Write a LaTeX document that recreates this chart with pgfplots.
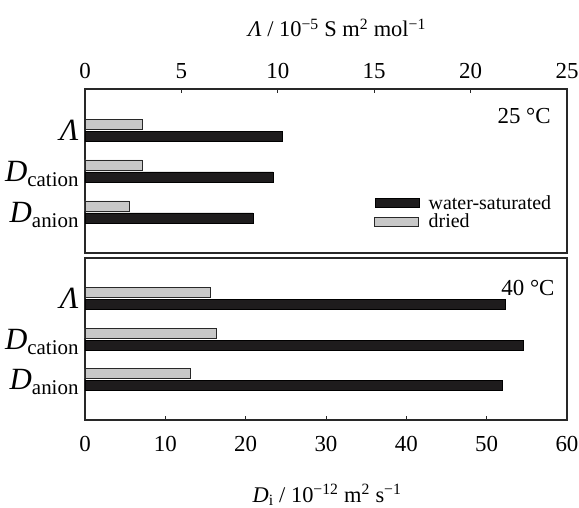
\documentclass[border=0pt]{standalone}
\usepackage{fontspec}
\setmainfont{Liberation Serif}
\usepackage{pgfplots}
\pgfplotsset{compat=1.18}
\definecolor{wet}{RGB}{30,28,29}
\definecolor{dry}{RGB}{200,200,200}
\definecolor{frame}{RGB}{40,40,40}
\newcommand\Dsub[1]{\textit{D}\raisebox{-5bp}[0pt][0pt]{\fontsize{21}{21}\selectfont #1}}
\pgfplotsset{
  panel/.style={scale only axis, width=482bp, xbar, bar width=10bp,
    ymin=0, ymax=4, tick align=inside, major tick length=4bp,
    axis line style={frame, line width=1.3bp},
    every tick/.style={frame, line width=0.8bp},
    /pgf/number format/assume math mode=true,
    xticklabel style={font=\fontsize{23}{23}\selectfont, inner sep=0pt, anchor=base},
    yticklabel style={font=\fontsize{31}{31}\selectfont, anchor=east, xshift=-3bp},
    ytick={1,2,3}, ytick style={draw=none},
    yticklabels={\Dsub{anion},\Dsub{cation},\textit{Λ}},
  },
  overlay/.style={scale only axis, width=482bp, xbar, bar width=10bp,
    ymin=0, ymax=4, xmin=0, xmax=25, axis line style={draw=none}, ytick=\empty,
    tick align=inside, major tick length=4bp,
    every tick/.style={frame, line width=0.8bp},
    /pgf/number format/assume math mode=true,
    xticklabel style={font=\fontsize{23}{23}\selectfont, inner sep=0pt, anchor=base},
  },
  wetbar/.style={draw=black, fill=wet, bar shift=-6bp, line width=0.4bp,
    legend image code/.code={\draw[draw=black, fill=wet, line width=0.4bp] (0bp,-4.5bp) rectangle (44bp,4.5bp);}},
  drybar/.style={draw=frame, fill=dry, bar shift=6bp, line width=0.8bp,
    legend image code/.code={\draw[draw=frame, fill=dry, line width=0.8bp] (0bp,-4.5bp) rectangle (44bp,4.5bp);}},
}
% 25 C: diffusion coefficients / 1e-12 m2 s-1 (y: 1 = anion, 2 = cation)
\pgfplotstableread{
y wet dry
1 20.9 5.5
2 23.4 7.1
}\DtwentyFive
% 25 C: molar conductivity / 1e-5 S m2 mol-1 (y = 3)
\pgfplotstableread{
y wet dry
3 10.25 3.0
}\LtwentyFive
% 40 C
\pgfplotstableread{
y wet dry
1 51.9 13.1
2 54.6 16.4
}\DforTy
\pgfplotstableread{
y wet dry
3 21.8 6.5
}\LforTy
\begin{document}
\begin{tikzpicture}
\path[use as bounding box] (-85bp,-88bp) rectangle (494bp,420bp);
% ---------- bottom panel (40 C) ----------
\begin{axis}[panel, at={(0bp,0bp)}, anchor=south west, height=162bp,
  xmin=0, xmax=60, xtick={0,10,...,60}, xtick pos=left, xticklabel pos=left,
  xticklabel style={yshift=-32bp}]
  \addplot[wetbar] table[x=wet, y=y] {\DforTy};
  \addplot[drybar] table[x=dry, y=y] {\DforTy};
  \node[font=\fontsize{23}{23}\selectfont] at (rel axis cs:0.919,0.815) {40 °C};
\end{axis}
\begin{axis}[overlay, at={(0bp,0bp)}, anchor=south west, height=162bp, xtick=\empty]
  \addplot[wetbar] table[x=wet, y=y] {\LforTy};
  \addplot[drybar] table[x=dry, y=y] {\LforTy};
\end{axis}
% ---------- top panel (25 C) ----------
\begin{axis}[panel, at={(0bp,167bp)}, anchor=south west, height=164bp,
  xmin=0, xmax=60, xtick=\empty,
  legend style={draw=none, fill=none, at={(rel axis cs:0.6,0.355)}, anchor=north west,
    font=\fontsize{20}{20}\selectfont, inner sep=0pt, row sep=2bp, column sep=9bp,
    nodes={inner sep=0.5bp}},
  legend cell align=left]
  \addplot[wetbar] table[x=wet, y=y] {\DtwentyFive};
  \addplot[drybar] table[x=dry, y=y] {\DtwentyFive};
  \legend{water-saturated, dried}
  \node[font=\fontsize{23}{23}\selectfont] at (rel axis cs:0.911,0.834) {25 °C};
\end{axis}
\begin{axis}[overlay, at={(0bp,167bp)}, anchor=south west, height=164bp,
  xtick={0,5,...,25}, xtick pos=right, xticklabel pos=right,
  xticklabel style={yshift=10bp}]
  \addplot[wetbar] table[x=wet, y=y] {\LtwentyFive};
  \addplot[drybar] table[x=dry, y=y] {\LtwentyFive};
\end{axis}
% axis titles
\node[font=\fontsize{22.5}{22.5}\selectfont, anchor=base] at (252bp,383bp)
  {\textit{Λ} / 10\textsuperscript{−5} S m\textsuperscript{2} mol\textsuperscript{−1}};
\node[font=\fontsize{22.5}{22.5}\selectfont, anchor=base] at (242bp,-82bp)
  {\textit{D}\textsubscript{i} / 10\textsuperscript{−12} m\textsuperscript{2} s\textsuperscript{−1}};
\end{tikzpicture}
\end{document}
